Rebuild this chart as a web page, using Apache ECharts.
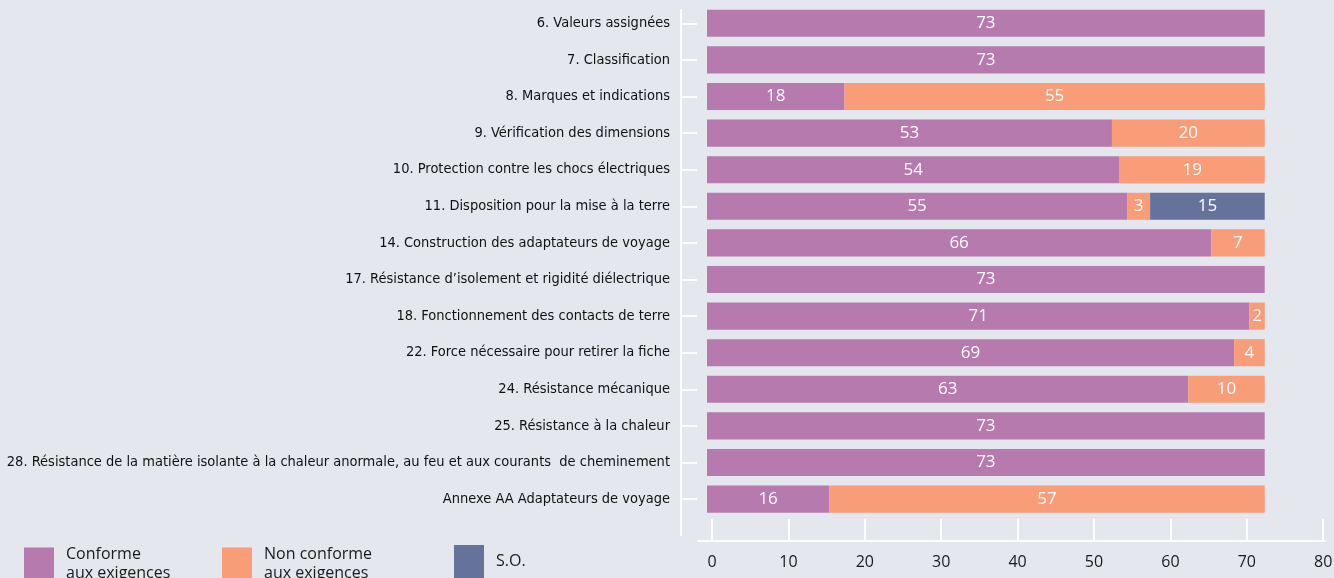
<!DOCTYPE html>
<html>
<head>
<meta charset="utf-8">
<script src="https://cdn.jsdelivr.net/npm/echarts@6/dist/echarts.min.js"></script>
<style>
  html, body { margin: 0; padding: 0; background: #e4e7ee; }
  #chart { width: 1334px; height: 578px; }
</style>
</head>
<body>
<div id="chart"></div>
<script>
// categories (top to bottom)
var categories = [
  '6. Valeurs assignées',
  '7. Classification',
  '8. Marques et indications',
  '9. Vérification des dimensions',
  '10. Protection contre les chocs électriques',
  '11. Disposition pour la mise à la terre',
  '14. Construction des adaptateurs de voyage',
  '17. Résistance d\u2019isolement et rigidité diélectrique',
  '18. Fonctionnement des contacts de terre',
  '22. Force nécessaire pour retirer la fiche',
  '24. Résistance mécanique',
  '25. Résistance à la chaleur',
  '28. Résistance de la matière isolante à la chaleur anormale, au feu et aux courants  de cheminement',
  'Annexe AA Adaptateurs de voyage'
]
var conforme = [73, 73, 18, 53, 54, 55, 66, 73, 71, 69, 63, 73, 73, 16]
var nonConforme = [null, null, 55, 20, 19, 3, 7, null, 2, 4, 10, null, null, 57]
var so = [null, null, null, null, null, 15, null, null, null, null, null, null, null, null]

var names = ['Conforme\naux exigences', 'Non conforme\naux exigences', 'S.O.']
var colors = ['#b77aae', '#f99c78', '#65729a']

var chart = echarts.init(document.getElementById('chart'))

function mkSeries(name, data, color) {
  return {
    name: name,
    type: 'bar',
    stack: 'all',
    xAxisIndex: 0,
    yAxisIndex: 0,
    data: data,
    barCategoryGap: '26%',
    itemStyle: { color: color },
    label: {
      show: true,
      position: 'inside',
      color: '#fff',
      fontSize: 17,
      fontFamily: 'Open Sans'
    }
  }
}

function mkLegend(name, left) {
  return {
    data: [name],
    left: left,
    top: 545,
    padding: 0,
    icon: 'rect',
    itemWidth: 30,
    itemHeight: 33,
    selectedMode: false,
    textStyle: {
      color: '#1a1a1a',
      fontSize: 16,
      fontFamily: 'Open Sans',
      lineHeight: 19,
      padding: [0, 0, 0, 7]
    }
  }
}

var white = { color: '#fff', width: 2 }

chart.setOption({
  backgroundColor: '#e4e7ee',
  animation: false,
  legend: [
    mkLegend(names[0], 24),
    mkLegend(names[1], 222),
    mkLegend(names[2], 454)
  ],
  grid: [
    // 0: bars
    { left: 707, top: 5, width: 611.2, height: 512.4, outerBoundsMode: 'none' },
    // 1: category labels and ticks
    { left: 681, top: 5, width: 611.2, height: 512.4, outerBoundsMode: 'none' },
    // 2: vertical axis line
    { left: 681, top: 10, width: 10, height: 525, outerBoundsMode: 'none' },
    // 3: horizontal axis ticks and labels
    { left: 712, top: 519, width: 611.2, height: 22, outerBoundsMode: 'none' },
    // 4: horizontal axis line
    { left: 698, top: 519, width: 627, height: 22, outerBoundsMode: 'none' }
  ],
  xAxis: [
    { gridIndex: 0, type: 'value', min: 0, max: 80, show: false },
    { gridIndex: 1, type: 'value', show: false },
    { gridIndex: 2, type: 'value', show: false },
    {
      gridIndex: 3,
      type: 'value',
      min: 0,
      max: 80,
      interval: 10,
      axisLine: { show: false },
      axisTick: { show: true, inside: true, length: 22, lineStyle: white },
      axisLabel: {
        color: '#1a1a1a',
        fontSize: 16,
        fontFamily: 'Open Sans',
        margin: 13
      },
      splitLine: { show: false }
    },
    {
      gridIndex: 4,
      type: 'value',
      axisLine: { show: true, lineStyle: white },
      axisTick: { show: false },
      axisLabel: { show: false },
      splitLine: { show: false }
    }
  ],
  yAxis: [
    { gridIndex: 0, type: 'category', inverse: true, data: categories, show: false },
    {
      gridIndex: 1,
      type: 'category',
      inverse: true,
      data: categories,
      axisLine: { show: false },
      axisTick: {
        show: true,
        inside: true,
        alignWithLabel: true,
        length: 16,
        lineStyle: white
      },
      axisLabel: {
        color: '#111',
        fontSize: 14.5,
        fontFamily: '"DejaVu Sans Condensed", "Liberation Sans Narrow", sans-serif',
        margin: 11
      }
    },
    {
      gridIndex: 2,
      type: 'value',
      axisLine: { show: true, lineStyle: white },
      axisTick: { show: false },
      axisLabel: { show: false },
      splitLine: { show: false }
    },
    { gridIndex: 3, type: 'value', show: false },
    { gridIndex: 4, type: 'value', show: false }
  ],
  series: [
    mkSeries(names[0], conforme, colors[0]),
    mkSeries(names[1], nonConforme, colors[1]),
    mkSeries(names[2], so, colors[2])
  ]
})
</script>
</body>
</html>
